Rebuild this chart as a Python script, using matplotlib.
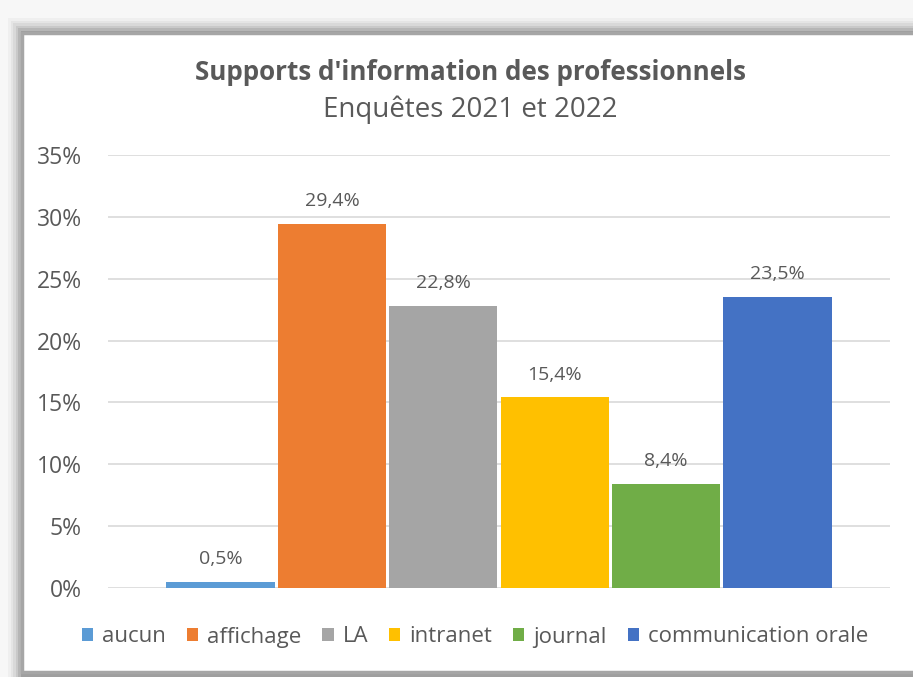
import matplotlib
matplotlib.use('Agg')
import matplotlib.pyplot as plt
from matplotlib.patches import Rectangle, Patch
from matplotlib.ticker import FuncFormatter

categories = ['aucun', 'affichage', 'LA', 'intranet', 'journal', 'communication orale']
values = [0.5, 29.4, 22.8, 15.4, 8.4, 23.5]
labels = ['0,5%', '29,4%', '22,8%', '15,4%', '8,4%', '23,5%']
colors = ['#5B9BD5', '#ED7D31', '#A5A5A5', '#FFC000', '#70AD47', '#4472C4']

plt.rcParams['font.family'] = ['Open Sans', 'DejaVu Sans']
txt = '#595959'

fig = plt.figure(figsize=(9.13, 6.77), dpi=100)
fig.patch.set_facecolor('#f7f7f7')

# frame with soft shadow (pixel coords, origin bottom-left)
for i, a in enumerate([0.03, 0.04, 0.05, 0.07, 0.09, 0.12]):
    fig.patches.append(Rectangle((8 + i*2.5, 0), 913, 677 - 18 - i*2.5, transform=None,
                                 facecolor='#000000', alpha=a, edgecolor='none', zorder=0))
fig.patches.append(Rectangle((22, 5), 913, 677 - 33 - 5, transform=None,
                             facecolor='white', edgecolor='#a6a6a6', linewidth=2.5, zorder=1))

ax = fig.add_axes([108/913, 1 - 588/677, 782/913, (588 - 155)/677])
ax.set_zorder(3)
ax.set_facecolor('none')
x = list(range(len(values)))
bars = ax.bar(x, values, width=0.97, color=colors, zorder=2)
ax.bar_label(bars, labels=labels, padding=10, fontsize=14, color=txt)

ax.set_xlim(-1.01, 6.01)
ax.set_ylim(0, 35)
ax.set_yticks(range(0, 36, 5))
ax.yaxis.set_major_formatter(FuncFormatter(lambda v, p: f'{int(v)}%'))
ax.grid(axis='y', color='#d9d9d9', linewidth=1.2, zorder=0)
ax.set_xticks([])
ax.tick_params(axis='y', length=0, pad=19, labelsize=16.5, labelcolor=txt)
for s in ax.spines.values():
    s.set_visible(False)

fig.text(470/913, 1 - 72/677, "Supports d'information des professionnels", ha='center', va='center',
         fontsize=18.7, fontweight='bold', color=txt)
fig.text(470/913, 1 - 110/677, 'Enquêtes 2021 et 2022', ha='center', va='center',
         fontsize=20, color=txt)

handles = [Patch(facecolor=c, label=l) for c, l in zip(colors, categories)]
fig.legend(handles=handles, loc='center', bbox_to_anchor=(475/913, 1 - 637/677), ncol=6,
           frameon=False, fontsize=16, labelcolor=txt, handlelength=0.5, handleheight=0.5,
           handletextpad=0.4, columnspacing=0.95)

fig.savefig('out.png', dpi=100)
